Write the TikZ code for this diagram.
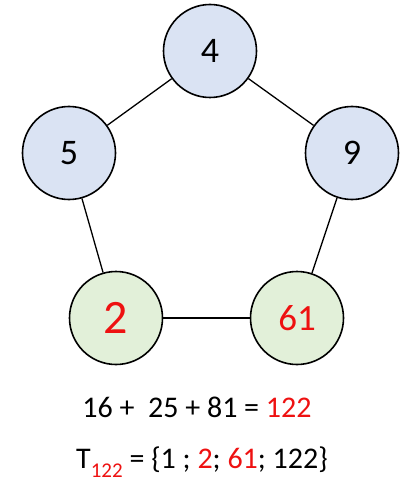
\documentclass[tikz,border=0pt]{standalone}
\usepackage{fontspec}
\setmainfont{Carlito}
\definecolor{nblue}{HTML}{DAE3F3}
\definecolor{ngreen}{HTML}{E2F0D9}
\definecolor{nred}{HTML}{EE1111}
\begin{document}
\begin{tikzpicture}[x=1pt,y=-1pt,
  vert/.style={circle,draw=black,line width=1.6pt,minimum size=93pt,inner sep=0pt},
  bvert/.style={vert,fill=nblue,font=\fontsize{36}{40}\selectfont},
  gvert/.style={vert,fill=ngreen,text=nred},
  edge/.style={line width=1.3pt}]
\useasboundingbox (0,0) rectangle (406,489);
\node[bvert] (n4) at (210,51) {4};
\node[bvert] (n5) at (69,153) {5};
\node[bvert] (n9) at (352,153) {9};
\node[gvert,font=\fontsize{48}{52}\selectfont] (n2) at (116,318) {2};
\node[gvert,font=\fontsize{37}{40}\selectfont] (n61) at (297,318) {61};
\draw[edge] (n4) -- (n5);
\draw[edge] (n4) -- (n9);
\draw[edge] (n5) -- (n2);
\draw[edge] (n9) -- (n61);
\draw[edge] (n2) -- (n61);
\node[font=\fontsize{30}{34}\selectfont,inner sep=0pt] (eq) at (197,407) {16 +\ \ 25 + 81 = \textcolor{nred}{122}};
\node[font=\fontsize{30}{34}\selectfont,inner sep=0pt] (set) at (202,462) {T\textcolor{nred}{\raisebox{-0.3em}{\fontsize{21}{24}\selectfont 122}} = \{1 ; \textcolor{nred}{2}; \textcolor{nred}{61}; 122\}};
\end{tikzpicture}
\end{document}
